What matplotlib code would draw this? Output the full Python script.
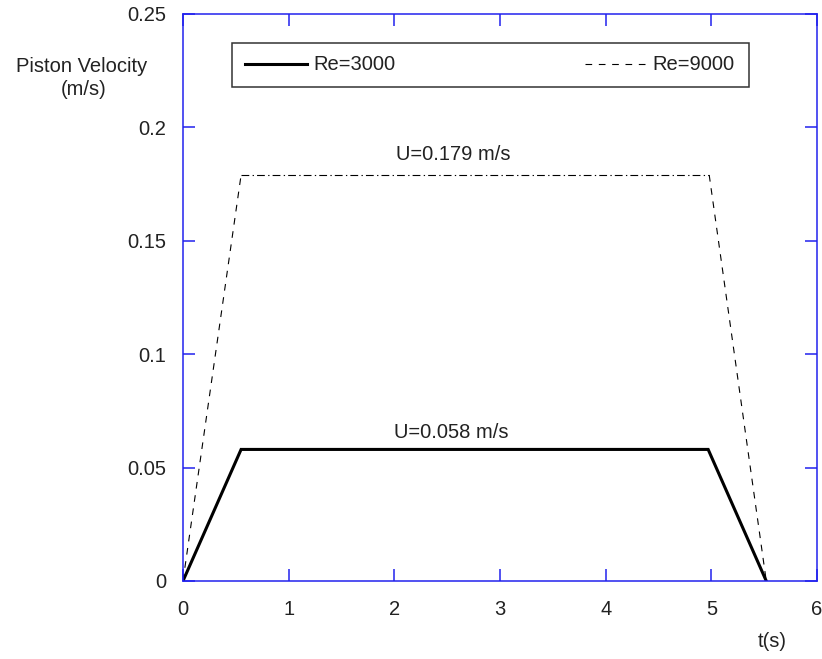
import matplotlib
matplotlib.use("Agg")
import matplotlib.pyplot as plt
from matplotlib.patches import Rectangle

# piston velocity programmes (trapezoids)
t_re3000 = [0.0, 0.55, 4.97, 5.52]
v_re3000 = [0.0, 0.058, 0.058, 0.0]
t_re9000 = [0.0, 0.55, 4.98, 5.52]
v_re9000 = [0.0, 0.179, 0.179, 0.0]
xticks = [0, 1, 2, 3, 4, 5, 6]
yticks = [0, 0.05, 0.1, 0.15, 0.2, 0.25]
ytick_labels = ["0", "0.05", "0.1", "0.15", "0.2", "0.25"]

BLUE = "#2222ee"
DASH = (0, (6, 6))
DASHDOT = (0, (7, 3, 1.2, 2.8))
FS = 14.5
plt.rcParams.update({"font.family": ["Liberation Sans", "DejaVu Sans"], "font.size": FS})

fig = plt.figure(figsize=(8.22, 6.59), dpi=100)
ax = fig.add_axes([0.2226, 0.1184, 0.7713, 0.8604])

ax.plot(t_re3000, v_re3000, color="black", lw=2.2, solid_joinstyle="miter")
ax.plot(t_re9000[:2], v_re9000[:2], color="black", lw=0.8, ls=DASH)
ax.plot(t_re9000[1:3], v_re9000[1:3], color="black", lw=0.8, ls=DASHDOT)
ax.plot(t_re9000[2:], v_re9000[2:], color="black", lw=0.8, ls=DASH)

ax.text(2.555, 0.1856, "U=0.179 m/s", ha="center", va="baseline", color="#222222")
ax.text(2.543, 0.0630, "U=0.058 m/s", ha="center", va="baseline", color="#222222")

ax.set_xlim(0, 6); ax.set_ylim(0, 0.25)
ax.set_xticks(xticks)
ax.set_yticks(yticks); ax.set_yticklabels(ytick_labels)
ax.tick_params(axis="both", direction="in", length=8.6, width=1.1, color=BLUE,
               top=True, right=True, labelcolor="#222222")
ax.tick_params(axis="x", pad=14)
ax.tick_params(axis="y", pad=12)
for s in ax.spines.values():
    s.set_color(BLUE); s.set_linewidth(1.1)

# hand-drawn legend box
ax.add_patch(Rectangle((0.0773, 0.8713), 0.8155, 0.0776, transform=ax.transAxes, fill=False,
                       ec="#333333", lw=1.1, zorder=5))
ax.plot([0.0978, 0.1956], [0.911, 0.911], transform=ax.transAxes, color="black", lw=2.2)
ax.text(0.205, 0.911, "Re=3000", transform=ax.transAxes, va="center", color="#222222")
ax.plot([0.634, 0.732], [0.911, 0.911], transform=ax.transAxes, color="black", lw=0.8, ls=DASH)
ax.text(0.74, 0.911, "Re=9000", transform=ax.transAxes, va="center", color="#222222")

fig.text(0.0995, 0.8907, "Piston Velocity", ha="center", va="baseline", color="#222222")
fig.text(0.1015, 0.8558, "(m/s)", ha="center", va="baseline", color="#222222")
fig.text(0.939, 0.018, "t(s)", ha="center", va="baseline", color="#222222")

fig.savefig("out.png", dpi=100, facecolor="white")
